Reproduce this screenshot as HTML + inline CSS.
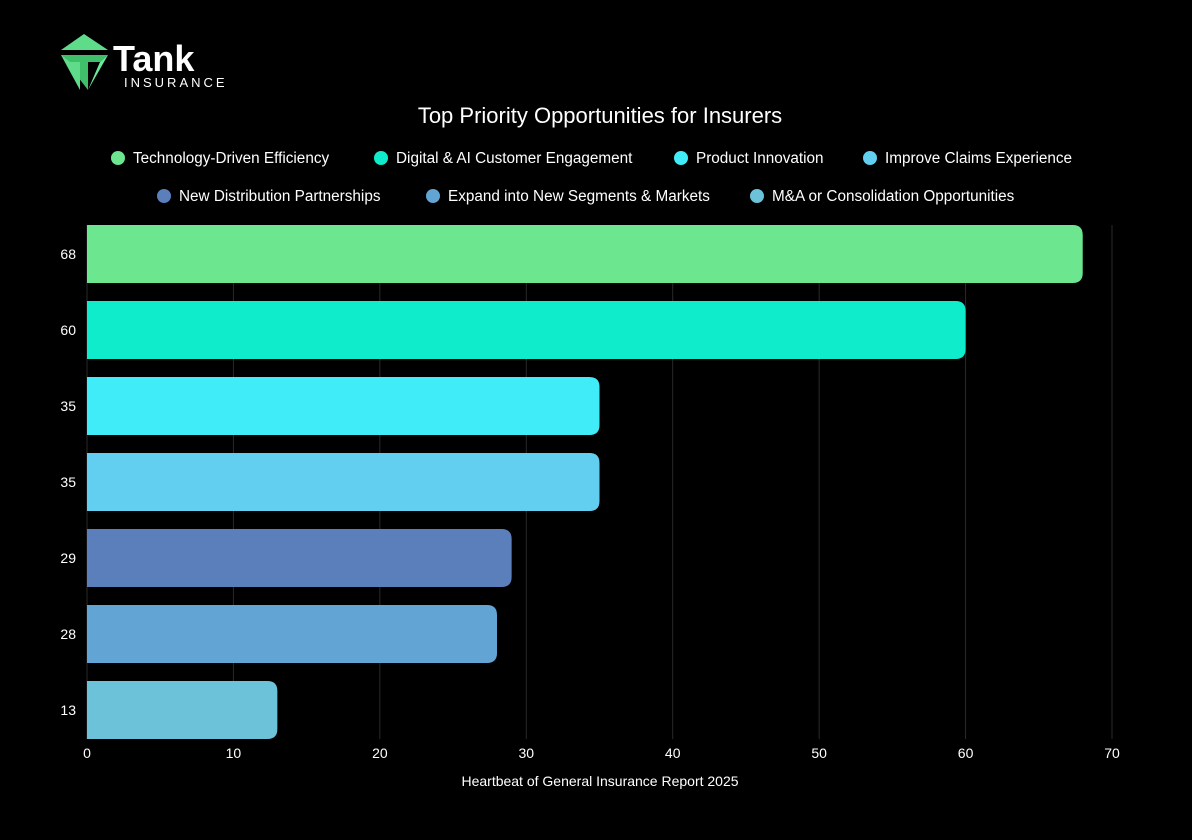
<!DOCTYPE html>
<html><head><meta charset="utf-8"><style>
html,body{margin:0;background:#000;width:1192px;height:840px;overflow:hidden;font-family:"Liberation Sans",sans-serif;}
svg{display:block;}
</style></head><body>
<svg id="chart" width="1192" height="840" xmlns="http://www.w3.org/2000/svg">
<g>
<polygon points="84,34 108,50 61,50" fill="#5fdc8a"/>
<polygon points="61,55 108,55 100,62 88,62 88,90" fill="#3fbf6a"/>
<polygon points="108,55 100,62 88,90" fill="#6ee99a"/>
<polygon points="61,55 70,62 80,62 80,90" fill="#5fdc8a"/>
<text x="113" y="71" font-size="36" font-weight="bold" fill="#fff">Tank</text>
<text x="124" y="87" font-size="13" fill="#fff" letter-spacing="3">INSURANCE</text>
</g>
<text x="600" y="123" font-size="22" fill="#fff" text-anchor="middle">Top Priority Opportunities for Insurers</text>
<g id="grid"></g><g id="bars"></g><g id="legend"></g><g id="axes"></g>
<text x="600" y="786" font-size="14" fill="#fff" text-anchor="middle">Heartbeat of General Insurance Report 2025</text>
</svg>
<script>
const categories=["Technology-Driven Efficiency","Digital & AI Customer Engagement","Product Innovation","Improve Claims Experience","New Distribution Partnerships","Expand into New Segments & Markets","M&A or Consolidation Opportunities"];
const values=[68,60,35,35,29,28,13];
const colors=["#6ce790","#0eeccc","#40ecf7","#62cff0","#5a7fbb","#62a4d3","#6cc2d8"];
const xTicks=[0,10,20,30,40,50,60,70];
const NS="http://www.w3.org/2000/svg";
const x0=87,x1=1112,yTop=225,pitch=76,bh=58;
const xs=v=>x0+(v/70)*(x1-x0);
function mk(tag,attrs,parent){const e=document.createElementNS(NS,tag);for(const k in attrs)e.setAttribute(k,attrs[k]);parent.appendChild(e);return e;}
const grid=document.getElementById('grid'),bars=document.getElementById('bars'),axes=document.getElementById('axes'),legend=document.getElementById('legend');
xTicks.forEach(t=>{
 const l=mk('line',{x1:xs(t),x2:xs(t),y1:yTop,y2:yTop+pitch*7-18,stroke:'#2a2a2a','stroke-width':1},grid);
 
 
 const tx=mk('text',{x:xs(t),y:758,'font-size':14,fill:'#fff','text-anchor':'middle'},axes);
 tx.textContent=t;
 
 
});
values.forEach((v,i)=>{
 const y=yTop+i*pitch,w=xs(v)-x0,r=10;
 const p=mk('path',{d:`M${x0},${y}H${x0+w-r}Q${x0+w},${y} ${x0+w},${y+r}V${y+bh-r}Q${x0+w},${y+bh} ${x0+w-r},${y+bh}H${x0}Z`,fill:colors[i]},bars);
 
 
 const t=mk('text',{x:76,y:y+bh/2+5,'font-size':14,fill:'#fff','text-anchor':'end'},axes);
 t.textContent=v;
 
 
});
const legPos=[[118,158],[381,158],[681,158],[870,158],[164,196],[433,196],[757,196]];
categories.forEach((c,i)=>{
 const g=mk('g',{},legend);
 
 
 mk('circle',{cx:legPos[i][0],cy:legPos[i][1],r:7,fill:colors[i]},g);
 const t=mk('text',{x:legPos[i][0]+15,y:legPos[i][1]+5,'font-size':15.3,fill:'#fff'},g);
 t.textContent=c;
});
</script>
</body></html>
